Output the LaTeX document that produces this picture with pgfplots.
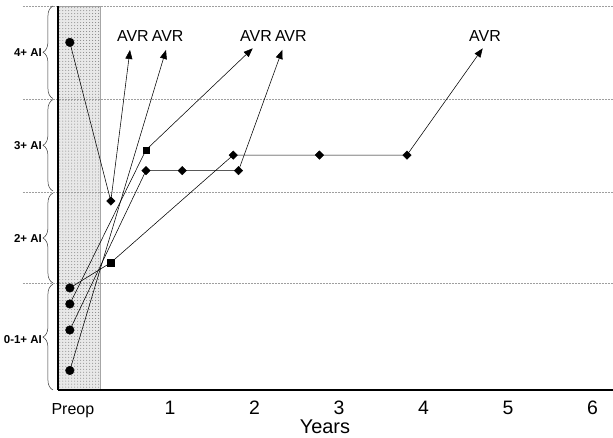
\documentclass[border=0pt]{standalone}
\usepackage{fontspec}
\setmainfont{Liberation Sans}
\usepackage{pgfplots}
\pgfplotsset{compat=1.18}
\usetikzlibrary{patterns,arrows.meta,decorations.pathreplacing}

\begin{document}
\begin{tikzpicture}
\begin{axis}[
  at={(0,0)}, anchor=south west,
  scale only axis, width=555bp, height=384bp,
  xmin=-0.325, xmax=6.243, ymin=0, ymax=4.174,
  axis x line*=bottom, axis y line*=left,
  axis line style={line width=2.8bp, -},
  xtick={-0.149,1,2,3,4,5,6},
  xticklabels={{\fontsize{16}{18}\selectfont Preop},1,2,3,4,5,6},
  xticklabel style={font=\fontsize{19.5}{22}\selectfont, anchor=base, yshift=-24.5bp, inner sep=0pt},
  ytick={0.543,1.649,2.652,3.663},
  yticklabels={0-1+ AI,2+ AI,3+ AI,4+ AI},
  yticklabel style={font=\bfseries\fontsize{11.5}{13}\selectfont, anchor=east, inner sep=0pt, xshift=-16bp},
  major tick length=0pt,
  xlabel={Years},
  xlabel style={font=\fontsize{20}{24}\selectfont, at={(rel axis cs:0.481,0)}, anchor=base, yshift=-43bp, inner sep=0pt},
  clip=false,
  axis on top,
]
% shaded preop column
\addplot[draw=gray!70, line width=0.5bp, fill=gray!18, postaction={pattern=dots, pattern color=gray}]
  coordinates {(-0.325,4.174) (0.172,4.174)} \closedcycle;

% band separators
\draw[gray!75, line width=0.6bp, dash pattern=on 2bp off 1bp] (axis cs:-0.74,1.155) -- (axis cs:6.243,1.155);
\draw[gray!75, line width=0.6bp, dash pattern=on 2bp off 1bp] (axis cs:-0.74,2.152) -- (axis cs:6.243,2.152);
\draw[gray!75, line width=0.6bp, dash pattern=on 2bp off 1bp] (axis cs:-0.74,3.163) -- (axis cs:6.243,3.163);
\draw[gray!75, line width=0.6bp, dash pattern=on 2bp off 1bp] (axis cs:-0.74,4.174) -- (axis cs:6.243,4.174);

% braces
\draw[decorate, decoration={brace, amplitude=10bp}, line width=0.5bp, black!80] (axis cs:-0.385,0.0) -- (axis cs:-0.385,1.150);
\draw[decorate, decoration={brace, amplitude=10bp}, line width=0.5bp, black!80] (axis cs:-0.385,1.163) -- (axis cs:-0.385,2.141);
\draw[decorate, decoration={brace, amplitude=10bp}, line width=0.5bp, black!80] (axis cs:-0.385,2.163) -- (axis cs:-0.385,3.157);
\draw[decorate, decoration={brace, amplitude=10bp}, line width=0.5bp, black!80] (axis cs:-0.385,3.168) -- (axis cs:-0.385,4.174);

% patient trajectories
\addplot[black, line width=0.55bp, -{Triangle[length=9bp,width=7bp]}] coordinates {(-0.185,3.779) (0.30,2.054) (0.527,3.696)};
\addplot[black, line width=0.55bp, -{Triangle[length=9bp,width=7bp]}] coordinates {(-0.185,0.212) (0.953,3.696)};
\addplot[black, line width=0.55bp, -{Triangle[length=9bp,width=7bp]}] coordinates {(-0.185,0.935) (0.716,2.609) (1.979,3.714)};
\addplot[black, line width=0.55bp, -{Triangle[length=9bp,width=7bp]}] coordinates {(-0.185,0.652) (0.716,2.384) (1.146,2.384) (1.811,2.384) (2.329,3.696)};
\addplot[black, line width=0.55bp, -{Triangle[length=9bp,width=7bp]}] coordinates {(-0.185,1.109) (0.30,1.384) (1.749,2.554) (2.769,2.554) (3.805,2.554) (4.701,3.714)};

% markers
\addplot[only marks, mark=*, mark size=4.3bp, black] coordinates {(-0.185,3.779) (-0.185,1.109) (-0.185,0.935) (-0.185,0.652) (-0.185,0.212)};
\addplot[only marks, mark=square*, mark size=3.2bp, black] coordinates {(0.30,1.384) (0.716,2.609)};
\addplot[only marks, mark=square*, mark size=3bp, black, mark options={rotate=45}] coordinates {(0.30,2.054) (0.716,2.384) (1.146,2.384) (1.811,2.384) (1.749,2.554) (2.769,2.554) (3.805,2.554)};

% AVR labels
\node[font=\fontsize{16}{19}\selectfont, anchor=base] at (axis cs:0.562,3.79) {AVR};
\node[font=\fontsize{16}{19}\selectfont, anchor=base] at (axis cs:0.973,3.79) {AVR};
\node[font=\fontsize{16}{19}\selectfont, anchor=base] at (axis cs:2.018,3.79) {AVR};
\node[font=\fontsize{16}{19}\selectfont, anchor=base] at (axis cs:2.430,3.79) {AVR};
\node[font=\fontsize{16}{19}\selectfont, anchor=base] at (axis cs:4.728,3.79) {AVR};
\end{axis}
\pgfresetboundingbox
\path[use as bounding box] (-58bp,-48bp) rectangle (555bp,390bp);
\end{tikzpicture}
\end{document}
